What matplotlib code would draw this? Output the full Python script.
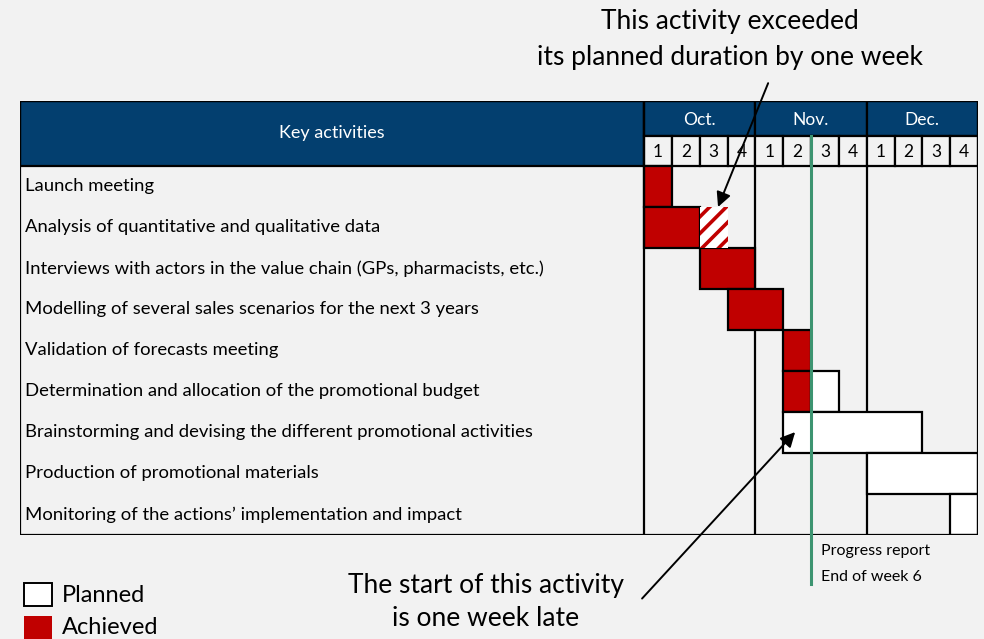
import matplotlib
matplotlib.use("Agg")
import matplotlib.pyplot as plt
from matplotlib.patches import Rectangle

plt.rcParams["font.family"] = ["Lato", "DejaVu Sans"]
plt.rcParams["hatch.linewidth"] = 2.6

BG = "#f2f2f2"
NAVY = "#033f6f"
RED = "#c00000"
GREEN = "#3d9471"

# ---- data -------------------------------------------------------------
activities = [
    "Launch meeting",
    "Analysis of quantitative and qualitative data",
    "Interviews with actors in the value chain (GPs, pharmacists, etc.)",
    "Modelling of several sales scenarios for the next 3 years",
    "Validation of forecasts meeting",
    "Determination and allocation of the promotional budget",
    "Brainstorming and devising the different promotional activities",
    "Production of promotional materials",
    "Monitoring of the actions\u2019 implementation and impact",
]
# week index (0 = Oct week 1) and length in weeks
achieved_start = [0, 0, 2, 3, 5, 5, None, None, None]
achieved_len = [1, 2, 2, 2, 1, 1, 0, 0, 0]
planned_start = [None, None, None, None, None, 6, 5, 8, 11]
planned_len = [0, 0, 0, 0, 0, 1, 5, 4, 1]
overrun_row = 1
overrun_start = 2
overrun_len = 1

months = ["Oct.", "Nov.", "Dec."]
weeks_per_month = 4
week_labels = ["1", "2", "3", "4"] * 3
progress_week = 6

# ---- layout (in week / row units) ------------------------------------
n_weeks = len(week_labels)
n_rows = len(activities)
ACT_W = 22.42      # width of the activity column, in weeks
HDR = 1.585        # header height, in rows
WEEK_ROW = 0.73    # height of the week-number row
LW = 1.6

fig = plt.figure(figsize=(9.84, 6.39), dpi=100, facecolor=BG)
ax = fig.add_axes([20 / 984, 1 - 535 / 639, 958 / 984, 434 / 639])
ax.set_xlim(-ACT_W, n_weeks)
ax.set_ylim(n_rows, -HDR)
ax.axis("off")
ax.set_facecolor(BG)

# header: activity cell + months
ax.add_patch(Rectangle((-ACT_W, -HDR), ACT_W, HDR, facecolor=NAVY, edgecolor="black", lw=LW))
ax.text(-ACT_W / 2, -HDR / 2, "Key activities", color="white", ha="center", va="center", fontsize=13)
for i, m in enumerate(months):
    x0 = i * weeks_per_month
    ax.add_patch(Rectangle((x0, -HDR), weeks_per_month, HDR - WEEK_ROW,
                           facecolor=NAVY, edgecolor="black", lw=LW))
    ax.text(x0 + weeks_per_month / 2, -HDR + (HDR - WEEK_ROW) / 2 + 0.03, m,
            color="white", ha="center", va="center", fontsize=12.5)
for i, w in enumerate(week_labels):
    ax.add_patch(Rectangle((i, -WEEK_ROW), 1, WEEK_ROW, facecolor=BG, edgecolor="black", lw=LW))
    ax.text(i + 0.5, -WEEK_ROW / 2 + 0.02, w, ha="center", va="center", fontsize=12.5)

# activity labels
for r, name in enumerate(activities):
    ax.text(-ACT_W + 0.18, r + 0.5, name, ha="left", va="center", fontsize=13.3)

# month separators in body
for i in range(1, len(months)):
    ax.plot([i * weeks_per_month] * 2, [0, n_rows], color="black", lw=LW, zorder=1)

# bars
for r in range(n_rows):
    if achieved_start[r] is not None:
        ax.add_patch(Rectangle((achieved_start[r], r), achieved_len[r], 1,
                               facecolor=RED, edgecolor="black", lw=LW, zorder=2))
    if planned_start[r] is not None:
        ax.add_patch(Rectangle((planned_start[r], r), planned_len[r], 1,
                               facecolor="white", edgecolor="black", lw=LW, zorder=2))
ax.add_patch(Rectangle((overrun_start, overrun_row), overrun_len, 1, facecolor="white",
                       edgecolor=RED, hatch="//", lw=0, zorder=2))

# outer border + column separator
ax.add_patch(Rectangle((-ACT_W, -HDR), ACT_W + n_weeks, n_rows + HDR, fill=False,
                       edgecolor="black", lw=LW, zorder=3))
ax.plot([0, 0], [-HDR, n_rows], color="black", lw=LW, zorder=3)

# progress line
ax.plot([progress_week] * 2, [-WEEK_ROW, n_rows + 1.2], color=GREEN, lw=2.2,
        zorder=4, clip_on=False)
ax.text(progress_week + 0.36, n_rows + 0.39, "Progress report", fontsize=11.5, va="center")
ax.text(progress_week + 0.36, n_rows + 1.02, "End of week 6", fontsize=11.5, va="center")

# annotations
arrow = dict(arrowstyle="-|>", color="black", lw=1.4, mutation_scale=22, shrinkA=0, shrinkB=0)
ax.annotate("", xy=(2.66, 1.0), xytext=(4.46, -2.02), arrowprops=arrow, zorder=5,
            annotation_clip=False)
ax.annotate("", xy=(5.43, 6.49), xytext=(-0.07, 10.55), arrowprops=arrow, zorder=5,
            annotation_clip=False)

fig.text(730 / 984, 1 - 22 / 639, "This activity exceeded", ha="center", va="center", fontsize=19)
fig.text(730 / 984, 1 - 58 / 639, "its planned duration by one week", ha="center", va="center", fontsize=19)
fig.text(486 / 984, 1 - 585 / 639, "The start of this activity", ha="center", va="center", fontsize=19)
fig.text(486 / 984, 1 - 618 / 639, "is one week late", ha="center", va="center", fontsize=19)

# legend
fig.patches.append(Rectangle((24 / 984, 1 - 606 / 639), 28 / 984, 23 / 639, facecolor="white",
                             edgecolor="black", lw=1.4, transform=fig.transFigure))
fig.patches.append(Rectangle((24 / 984, 1 - 639 / 639), 28 / 984, 23 / 639, facecolor=RED,
                             edgecolor="none", transform=fig.transFigure))
fig.text(62 / 984, 1 - 595 / 639, "Planned", va="center", fontsize=17)
fig.text(62 / 984, 1 - 627 / 639, "Achieved", va="center", fontsize=17)

fig.savefig("out.png", dpi=100, facecolor=BG)
